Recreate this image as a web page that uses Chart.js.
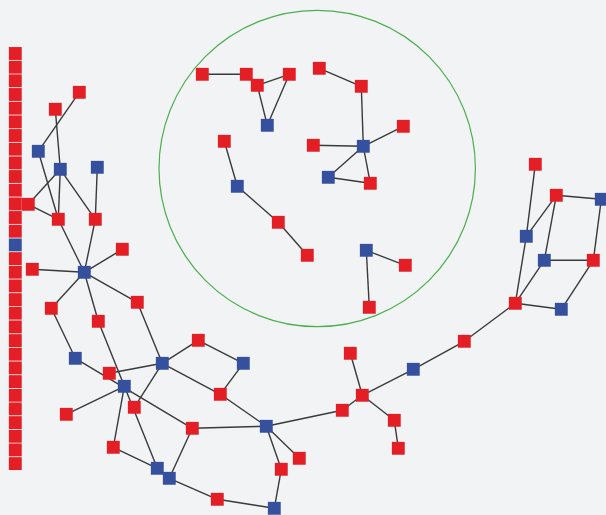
<!DOCTYPE html>
<html>
<head>
<meta charset="utf-8">
<script src="https://cdn.jsdelivr.net/npm/chart.js@4/dist/chart.umd.min.js"></script>
<style>
html,body{margin:0;padding:0;background:#f2f3f5;overflow:hidden;}
#wrap{width:606px;height:515px;}
</style>
</head>
<body>
<div id="wrap"><canvas id="c" width="606" height="515"></canvas></div>
<script>
// Node ids, positions (in the plot's own coordinate units) and kinds
const nodeIds = ["A","B","C","D","E","F","G","H","I","J","K","L","M","N","O","P","Q","R","S","T","U","V","X","Y","Z","W",
  "AA","AB","AC","AD","AE","AF",
  "BA","BB","BC","BD","BE","BF","BG",
  "CA","CB","CC","CD","CE","CF","CG","CH",
  "DA","DB","DC","DD","DE","DF","DG","DH","DI","DJ","DK","DL","DM","DN","DO","DP","DQ","DR","DS"];
const nodeX = [79.3,55.3,38.3,60.3,97.3,28.3,58.3,95.3,122.3,32.3,84.3,51.3,98.3,137.3,75.3,109.3,124.3,134.3,66.3,113.3,157.3,162.3,198.3,243.3,220.3,192.3,
  266.3,299.3,281.3,169.3,217.3,274.3,
  350.3,362.3,342.3,413.3,464.3,394.3,398.3,
  535.3,556.3,601.3,526.3,544.3,593.3,515.3,561.3,
  202.3,246.3,257.3,289.3,267.3,319.3,361.3,403.3,313.3,363.3,328.3,370.3,224.3,237.3,278.3,307.3,366.3,405.3,369.3];
const nodeY = [92.3,109.3,151.3,169.3,167.3,204.3,219.3,219.3,249.3,269.3,272.3,308.3,321.3,302.3,358.3,373.3,386.3,407.3,414.3,447.3,468.3,363.3,340.3,363.3,394.3,428.3,
  426.3,458.3,469.3,478.3,499.3,508.3,
  353.3,395.3,410.3,369.3,341.3,420.3,448.3,
  164.3,195.3,199.3,236.3,260.3,260.3,303.3,309.3,
  74.3,74.3,85.3,74.3,125.3,68.3,86.3,126.3,145.3,146.3,177.3,183.3,141.3,186.3,222.3,255.3,250.3,265.3,307.3];
const nodeKind = ["r","r","b","b","b","r","r","r","r","r","b","r","r","r","b","r","b","r","r","r","b","b","r","b","r","r",
  "b","r","r","b","r","b",
  "r","r","r","b","r","r","r",
  "r","r","b","b","b","r","r","b",
  "r","r","r","r","b","r","r","r","r","b","b","r","r","b","r","r","b","r","r"];

// Isolated nodes stacked along the left edge
const stackX = 15.3;
const stackY = [53.5,67.2,80.8,94.5,108.2,121.9,135.5,149.2,162.9,176.5,190.2,203.9,217.5,231.2,244.9,258.6,272.2,285.9,299.6,313.2,326.9,340.6,354.2,367.9,381.6,395.3,408.9,422.6,436.3,449.9,463.6];
const stackKind = ["r","r","r","r","r","r","r","r","r","r","r","r","r","r","b","r","r","r","r","r","r","r","r","r","r","r","r","r","r","r","r"];

// Edges
const edgeFrom = ["A","B","C","D","D","D","E","F","G","H","I","J","K","K","K","L","M","O","P","S","Q","N","V","X","V","Y","Z","W","W","T","U","AD","AE","AA","AA","AC","AA","BA","BB","BB","BD","BB","BF","BE",
  "CA","CD","CB","CB","CB","CC","CE","CE","CG","CH",
  "DA","DC","DC","DD","DF","DG","DH","DI","DJ","DJ","DK","DM","DN","DO","DQ","DQ","V"];
const edgeTo   = ["C","D","G","F","G","H","H","G","K","K","K","K","L","M","N","O","U","W","V","Q","T","V","X","Y","Z","Z","AA","AA","AD","U","AD","AE","AF","AB","AC","AF","BC","BB","BC","BD","BE","BF","BG","CG",
  "CD","CG","CD","CE","CC","CF","CF","CG","CH","CF",
  "DB","DD","DE","DE","DG","DJ","DJ","DJ","DK","DL","DL","DN","DO","DP","DR","DS","R"];

// Highlight circle (center and radius in plot units)
const ringX = 317.2, ringY = 168.5, ringR = 158.2;

const RED = "#e31e25", BLUE = "#35509d";
const col = k => k === "b" ? BLUE : RED;

const nodePts = [];
const nodeCols = [];
for (let i = 0; i < stackY.length; i++) { nodePts.push({x: stackX, y: stackY[i]}); nodeCols.push(col(stackKind[i])); }
for (let i = 0; i < nodeIds.length; i++) { nodePts.push({x: nodeX[i], y: nodeY[i]}); nodeCols.push(col(nodeKind[i])); }

const datasets = [{
  label: "nodes",
  data: nodePts,
  pointStyle: "rect",
  pointRadius: 9.1,
  pointHoverRadius: 9.1,
  pointBackgroundColor: nodeCols,
  pointBorderWidth: 0,
  borderWidth: 0,
  showLine: false,
  clip: false
}];
for (let e = 0; e < edgeFrom.length; e++) {
  const a = nodeIds.indexOf(edgeFrom[e]), b = nodeIds.indexOf(edgeTo[e]);
  datasets.push({
    label: "edge" + e,
    data: [{x: nodeX[a], y: nodeY[a]}, {x: nodeX[b], y: nodeY[b]}],
    showLine: true,
    borderColor: "#3a3a3a",
    borderWidth: 1.4,
    pointRadius: 0,
    pointHoverRadius: 0,
    fill: false,
    clip: false
  });
}

const bgPlugin = {
  id: "bg",
  beforeDraw(chart) {
    const ctx = chart.ctx;
    ctx.save();
    ctx.fillStyle = "#f2f3f5";
    ctx.fillRect(0, 0, chart.width, chart.height);
    ctx.restore();
  },
  beforeDatasetsDraw(chart) {
    const xs = chart.scales.x, ys = chart.scales.y;
    const cx = xs.getPixelForValue(ringX), cy = ys.getPixelForValue(ringY);
    const r = Math.abs(xs.getPixelForValue(ringX + ringR) - cx);
    const ctx = chart.ctx;
    ctx.save();
    ctx.strokeStyle = "#4caf50";
    ctx.lineWidth = 1.2;
    ctx.beginPath();
    ctx.arc(cx, cy, r, 0, Math.PI * 2);
    ctx.stroke();
    ctx.restore();
  }
};

new Chart(document.getElementById("c"), {
  type: "scatter",
  data: { datasets },
  options: {
    responsive: false,
    animation: false,
    events: [],
    layout: { padding: 0, autoPadding: false },
    plugins: { legend: { display: false }, tooltip: { enabled: false } },
    scales: {
      x: { type: "linear", min: 0, max: 606, display: false },
      y: { type: "linear", min: 0, max: 515, reverse: true, display: false }
    }
  },
  plugins: [bgPlugin]
});
</script>
</body>
</html>
